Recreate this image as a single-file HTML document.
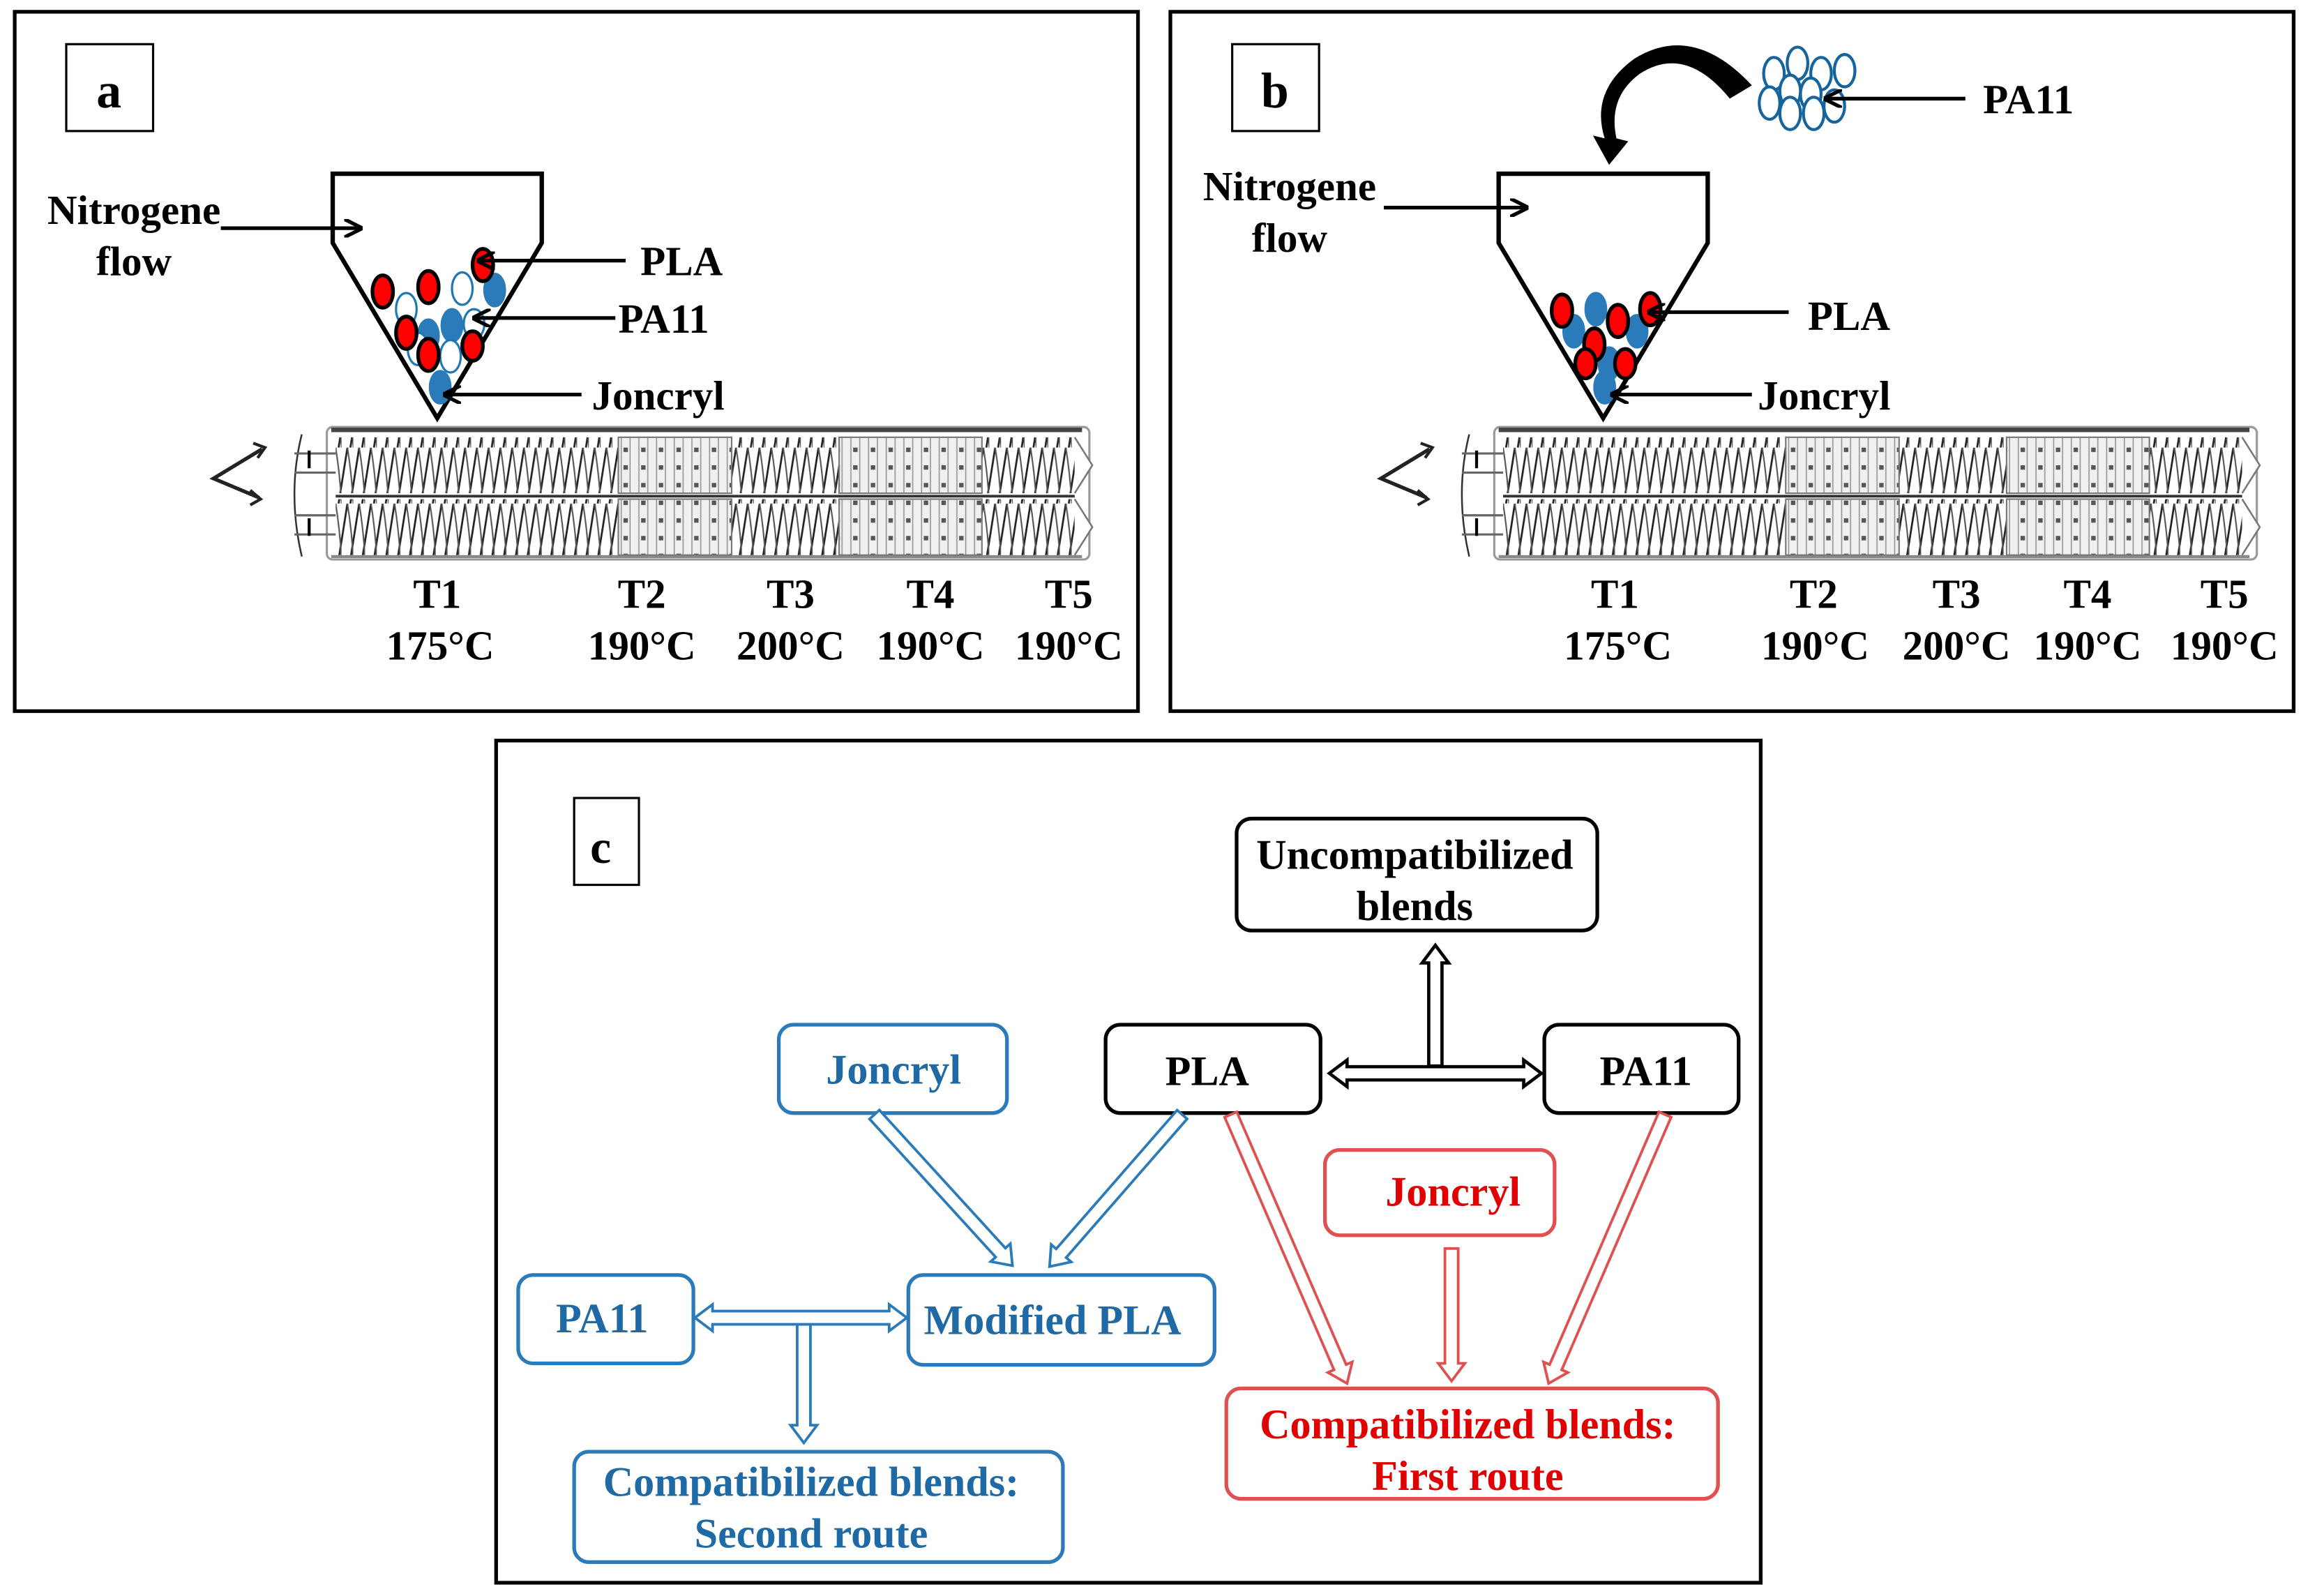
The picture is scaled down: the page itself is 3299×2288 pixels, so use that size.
<!DOCTYPE html>
<html><head><meta charset="utf-8"><style>html,body{margin:0;padding:0;background:#fff}svg{display:block}</style></head>
<body>
<svg width="3299" height="2288" viewBox="0 0 1563 1084" xmlns="http://www.w3.org/2000/svg" font-family="'Liberation Serif', serif" font-weight="bold">
<defs>
<pattern id="fl" width="8" height="38" patternUnits="userSpaceOnUse">
<rect width="8" height="38" fill="#fff"/>
<path d="M-2,38 L4,0 M6,38 L12,0" stroke="#222" stroke-width="1.3"/>
<path d="M4,0 Q7,19 8,38" stroke="#555" stroke-width="1" fill="none"/>
</pattern>
<pattern id="kn" width="12" height="12" patternUnits="userSpaceOnUse">
<rect width="12" height="12" fill="#f0f0f0"/>
<path d="M2,0 V12 M8,0 V12" stroke="#999" stroke-width="0.8"/>
<rect x="3.5" y="4" width="3" height="3" fill="#555"/>
</pattern>
<g id="ext">
<rect x="222" y="290" width="518" height="90" rx="4" fill="#fff" stroke="#999" stroke-width="1.5"/>
<line x1="225" y1="292" x2="735" y2="292" stroke="#444" stroke-width="3"/>
<line x1="225" y1="378" x2="735" y2="378" stroke="#888" stroke-width="2"/>
<rect x="228" y="297" width="502" height="38" fill="url(#fl)"/>
<rect x="228" y="339" width="502" height="38" fill="url(#fl)"/>
<rect x="420" y="297" width="77" height="38" fill="url(#kn)" stroke="#777"/>
<rect x="420" y="339" width="77" height="38" fill="url(#kn)" stroke="#777"/>
<rect x="570" y="297" width="97" height="38" fill="url(#kn)" stroke="#777"/>
<rect x="570" y="339" width="97" height="38" fill="url(#kn)" stroke="#777"/>
<line x1="228" y1="337" x2="730" y2="337" stroke="#333" stroke-width="1.8"/>
<path d="M730,297 L742,316 L730,335 M730,339 L742,358 L730,377" stroke="#777" fill="#fff" stroke-width="1.2"/>
<path d="M205,295 Q195,335 205,378" stroke="#333" fill="none" stroke-width="1.2"/>
<path d="M200,308 H228 M200,321 H228 M200,350 H228 M200,363 H228" stroke="#666" stroke-width="1.5"/>
<path d="M210,306 V318 M210,352 V364" stroke="#000" stroke-width="2"/>
<path d="M178,305 L145,325 L176,338" stroke="#222" stroke-width="2.5" fill="none"/>
<path d="M172,301 L180,304 L175,311 M170,333 L177,339 L170,343" stroke="#222" stroke-width="2" fill="none"/>
</g>
<marker id="ah" viewBox="0 0 10 10" refX="9" refY="5" markerWidth="5" markerHeight="5" orient="auto"><path d="M0,0 L10,5 L0,10" fill="none" stroke="#000" stroke-width="2"/></marker>
</defs>

<!-- Panel a -->
<rect x="10" y="8" width="763" height="475" fill="none" stroke="#000" stroke-width="2.5"/>
<rect x="45" y="30" width="59" height="59" fill="none" stroke="#000" stroke-width="1.5"/>
<text x="74" y="73" font-size="34" text-anchor="middle">a</text>
<use href="#ext"/>
<path d="M226,165 V118 H368 V165 L297,284 Z" fill="none" stroke="#000" stroke-width="3"/>
<g stroke-width="1.5">
<ellipse cx="276" cy="210" rx="7" ry="11" fill="#fff" stroke="#1f77b4"/>
<ellipse cx="314" cy="196" rx="7" ry="11" fill="#fff" stroke="#1f77b4"/>
<ellipse cx="307" cy="221" rx="7" ry="11" fill="#2b7bba" stroke="#2b7bba"/>
<ellipse cx="336" cy="197" rx="7" ry="11" fill="#2b7bba" stroke="#2b7bba"/>
<ellipse cx="291" cy="228" rx="7" ry="11" fill="#2b7bba" stroke="#2b7bba"/>
<ellipse cx="284" cy="237" rx="7" ry="11" fill="#fff" stroke="#1f77b4"/>
<ellipse cx="306" cy="242" rx="7" ry="11" fill="#fff" stroke="#1f77b4"/>
<ellipse cx="322" cy="220" rx="7" ry="10" fill="#fff" stroke="#1f77b4"/>
<ellipse cx="299" cy="263" rx="7" ry="11" fill="#2b7bba" stroke="#2b7bba"/>
</g>
<g fill="#f00" stroke="#000" stroke-width="2.5">
<ellipse cx="260" cy="198" rx="7" ry="11"/>
<ellipse cx="291" cy="195" rx="7" ry="11"/>
<ellipse cx="328" cy="180" rx="7" ry="11"/>
<ellipse cx="276" cy="226" rx="7" ry="11"/>
<ellipse cx="291" cy="241" rx="7" ry="11"/>
<ellipse cx="321" cy="235" rx="7" ry="10"/>
</g>
<g stroke="#000" stroke-width="2.5" marker-end="url(#ah)">
<line x1="150" y1="155" x2="245" y2="155"/>
<line x1="425" y1="177" x2="325" y2="177"/>
<line x1="418" y1="216" x2="322" y2="216"/>
<line x1="395" y1="268" x2="302" y2="268"/>
</g>
<g font-size="28">
<text x="91" y="152" text-anchor="middle">Nitrogene</text>
<text x="91" y="187" text-anchor="middle">flow</text>
<text x="435" y="187">PLA</text>
<text x="420" y="226">PA11</text>
<text x="402" y="278">Joncryl</text>
</g>
<g font-size="28" text-anchor="middle">
<text x="297" y="413">T1</text><text x="299" y="448">175°C</text>
<text x="436" y="413">T2</text><text x="436" y="448">190°C</text>
<text x="537" y="413">T3</text><text x="537" y="448">200°C</text>
<text x="632" y="413">T4</text><text x="632" y="448">190°C</text>
<text x="726" y="413">T5</text><text x="726" y="448">190°C</text>
</g>

<!-- Panel b -->
<rect x="795" y="8" width="763" height="475" fill="none" stroke="#000" stroke-width="2.5"/>
<rect x="837" y="30" width="59" height="59" fill="none" stroke="#000" stroke-width="1.5"/>
<text x="866" y="73" font-size="34" text-anchor="middle">b</text>
<use href="#ext" transform="translate(793,0)"/>
<path d="M1018,165 V118 H1160 V165 L1089,284 Z" fill="none" stroke="#000" stroke-width="3"/>
<g stroke-width="1.5">
<ellipse cx="1069" cy="225" rx="7" ry="11" fill="#2b7bba" stroke="#2b7bba"/>
<ellipse cx="1084" cy="210" rx="7" ry="11" fill="#2b7bba" stroke="#2b7bba"/>
<ellipse cx="1112" cy="225" rx="7" ry="11" fill="#2b7bba" stroke="#2b7bba"/>
<ellipse cx="1093" cy="247" rx="7" ry="11" fill="#2b7bba" stroke="#2b7bba"/>
<ellipse cx="1090" cy="263" rx="7" ry="11" fill="#2b7bba" stroke="#2b7bba"/>
</g>
<g fill="#f00" stroke="#000" stroke-width="2.5">
<ellipse cx="1061" cy="211" rx="7" ry="11"/>
<ellipse cx="1099" cy="218" rx="7" ry="11"/>
<ellipse cx="1121" cy="210" rx="7" ry="11"/>
<ellipse cx="1083" cy="234" rx="7" ry="11"/>
<ellipse cx="1077" cy="247" rx="7" ry="10"/>
<ellipse cx="1104" cy="247" rx="7" ry="10"/>
</g>
<g fill="#fff" stroke="#16649e" stroke-width="2">
<ellipse cx="1205" cy="50" rx="7" ry="11"/>
<ellipse cx="1221" cy="43" rx="7" ry="11"/>
<ellipse cx="1237" cy="50" rx="7" ry="11"/>
<ellipse cx="1253" cy="48" rx="7" ry="11"/>
<ellipse cx="1202" cy="70" rx="7" ry="11"/>
<ellipse cx="1216" cy="62" rx="7" ry="11"/>
<ellipse cx="1230" cy="64" rx="7" ry="11"/>
<ellipse cx="1216" cy="77" rx="7" ry="11"/>
<ellipse cx="1232" cy="77" rx="7" ry="11"/>
<ellipse cx="1246" cy="72" rx="7" ry="11"/>
</g>
<path d="M1190,58 Q1150,15 1110,40 Q1080,62 1090,94 L1082,92 L1093,112 L1106,96 L1098,94 Q1092,66 1114,50 Q1145,30 1175,67 Z" fill="#000"/>
<g stroke="#000" stroke-width="2.5" marker-end="url(#ah)">
<line x1="940" y1="141" x2="1037" y2="141"/>
<line x1="1215" y1="212" x2="1120" y2="212"/>
<line x1="1190" y1="268" x2="1095" y2="268"/>
<line x1="1335" y1="67" x2="1240" y2="67"/>
</g>
<g font-size="28">
<text x="876" y="136" text-anchor="middle">Nitrogene</text>
<text x="876" y="171" text-anchor="middle">flow</text>
<text x="1228" y="224">PLA</text>
<text x="1194" y="278">Joncryl</text>
<text x="1347" y="77">PA11</text>
</g>
<g font-size="28" text-anchor="middle">
<text x="1097" y="413">T1</text><text x="1099" y="448">175°C</text>
<text x="1232" y="413">T2</text><text x="1233" y="448">190°C</text>
<text x="1329" y="413">T3</text><text x="1329" y="448">200°C</text>
<text x="1418" y="413">T4</text><text x="1418" y="448">190°C</text>
<text x="1511" y="413">T5</text><text x="1511" y="448">190°C</text>
</g>

<!-- Panel c -->
<rect x="337" y="503" width="859" height="572" fill="none" stroke="#000" stroke-width="2.5"/>
<rect x="390" y="542" width="44" height="59" fill="none" stroke="#000" stroke-width="1.5"/>
<text x="408" y="586" font-size="32" text-anchor="middle">c</text>

<g fill="#fff" stroke-width="2.5">
<rect x="840" y="556" width="245" height="76" rx="10" stroke="#000"/>
<rect x="751" y="696" width="146" height="60" rx="10" stroke="#000"/>
<rect x="1049" y="696" width="132" height="60" rx="10" stroke="#000"/>
<rect x="529" y="696" width="155" height="60" rx="10" stroke="#2b7bba"/>
<rect x="352" y="866" width="119" height="60" rx="10" stroke="#2b7bba"/>
<rect x="617" y="866" width="208" height="61" rx="10" stroke="#2b7bba"/>
<rect x="390" y="986" width="332" height="75" rx="10" stroke="#2b7bba"/>
<rect x="900" y="781" width="156" height="58" rx="10" stroke="#e05050"/>
<rect x="833" y="943" width="334" height="75" rx="10" stroke="#e05050"/>
</g>

<g fill="#fff" stroke-width="1.8">
<polygon transform="translate(594,757) rotate(47.6)" points="0,-4.5 127,-4.5 127,-9 139,0 127,9 127,4.5 0,4.5" stroke="#2b7bba"/>
<polygon transform="translate(803,757) rotate(131.1)" points="0,-4.5 125,-4.5 125,-9 137,0 125,9 125,4.5 0,4.5" stroke="#2b7bba"/>
<polygon transform="translate(546,898) rotate(90)" points="0,-4.5 70,-4.5 70,-9 82,0 70,9 70,4.5 0,4.5" stroke="#2b7bba"/>
<polygon points="472,895 484,886 484,890.5 604,890.5 604,886 616,895 604,904 604,899.5 484,899.5 484,904" stroke="#2b7bba"/>
<polygon transform="translate(836,757) rotate(66.6)" points="0,-4.5 187,-4.5 187,-9 199,0 187,9 187,4.5 0,4.5" stroke="#e05050"/>
<polygon transform="translate(986,848) rotate(90)" points="0,-4.5 78,-4.5 78,-9 90,0 78,9 78,4.5 0,4.5" stroke="#e05050"/>
<polygon transform="translate(1131,757) rotate(113.4)" points="0,-4.5 187,-4.5 187,-9 199,0 187,9 187,4.5 0,4.5" stroke="#e05050"/>
<polygon transform="translate(975,724) rotate(-90)" points="0,-4.5 70,-4.5 70,-9 82,0 70,9 70,4.5 0,4.5" stroke="#000" stroke-width="2.2"/>
<polygon points="903,729 915,720 915,724.5 1035,724.5 1035,720 1047,729 1035,738 1035,733.5 915,733.5 915,738" stroke="#000" stroke-width="2.2"/>
</g>

<g font-size="28.5" text-anchor="middle">
<text x="961" y="590">Uncompatibilized</text>
<text x="961" y="625">blends</text>
<text x="820" y="737">PLA</text>
<text x="1118" y="737">PA11</text>
<g fill="#1f6aa5">
<text x="607" y="736">Joncryl</text>
<text x="409" y="905">PA11</text>
<text x="715" y="906">Modified PLA</text>
<text x="551" y="1016">Compatibilized blends:</text>
<text x="551" y="1051">Second route</text>
</g>
<g fill="#e00000">
<text x="987" y="819">Joncryl</text>
<text x="997" y="977">Compatibilized blends:</text>
<text x="997" y="1012">First route</text>
</g>
</g>
</svg>
</body></html>
